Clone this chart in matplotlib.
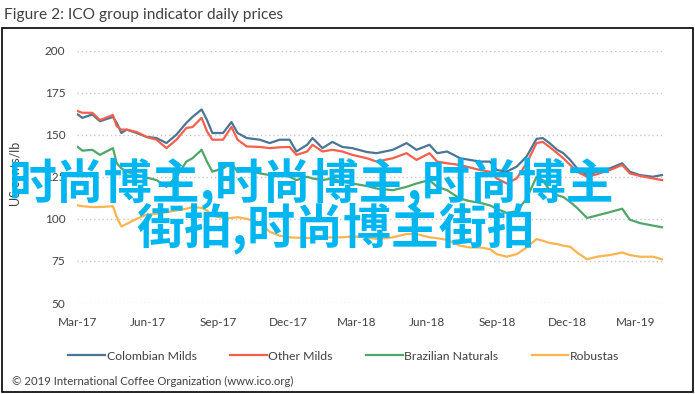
import matplotlib
matplotlib.use('Agg')
import matplotlib.pyplot as plt
import pandas as pd
from matplotlib.lines import Line2D
from matplotlib.patches import Rectangle

# ---------------- data ----------------
dates = [
    "2017-03-01", "2017-03-07", "2017-03-20", "2017-03-30", "2017-04-16", "2017-04-21", "2017-04-27", "2017-05-04",
    "2017-05-17", "2017-05-30", "2017-06-12", "2017-06-25", "2017-07-08", "2017-07-21", "2017-07-29", "2017-08-10",
    "2017-08-17", "2017-08-24", "2017-09-07", "2017-09-18", "2017-09-26", "2017-10-08", "2017-10-25", "2017-11-07",
    "2017-11-20", "2017-12-03", "2017-12-12", "2017-12-26", "2018-01-02", "2018-01-15", "2018-01-28", "2018-02-10",
    "2018-02-23", "2018-03-14", "2018-03-27", "2018-04-17", "2018-05-05", "2018-05-18", "2018-06-04", "2018-06-14",
    "2018-06-27", "2018-07-14", "2018-07-27", "2018-08-09", "2018-08-22", "2018-08-31", "2018-09-13", "2018-09-26",
    "2018-10-09", "2018-10-22", "2018-10-30", "2018-11-08", "2018-11-18", "2018-11-26", "2018-12-05", "2018-12-14",
    "2018-12-27", "2019-01-09", "2019-01-26", "2019-02-11", "2019-02-21", "2019-03-06", "2019-03-23", "2019-04-04",
]
colombian_milds = [
    162, 160, 162, 158, 160.5, 157, 151, 153, 151, 148.7,
    148, 145, 150, 157, 160.5, 165, 158.7, 151, 151, 157.5,
    151, 148, 147, 145, 147, 147, 140, 144, 148, 142,
    145.7, 142.7, 142, 139.7, 139, 141, 145, 141, 144, 139,
    140, 136, 135, 134, 134, 129, 128, 131, 137, 147.5,
    148, 145, 141, 139, 135, 130, 126, 128, 130, 133,
    128, 126, 125, 126,
]
other_milds = [
    164, 163, 163, 158.7, 161.7, 155, 153, 153, 151.6, 148.6,
    147, 142, 147, 154, 154.5, 160, 152, 147, 147, 154.6,
    147, 143, 142.7, 142, 142.5, 142.7, 138, 140, 144, 140,
    141, 140, 138, 136, 134, 136, 139, 135, 139, 134,
    133, 132, 130.5, 129, 128, 124, 121, 124, 133, 145,
    145.7, 142.7, 139, 136, 132, 128, 125, 126.5, 129, 132,
    127, 125.5, 124, 123,
]
brazilian_naturals = [
    142.7, 140.5, 141, 138, 142, 133, 130, 128, 126, 124.5,
    123, 119, 125, 134, 136, 141, 134, 128, 130, 133,
    128, 129, 127, 126, 127, 125, 123, 125, 124, 123,
    124, 122, 121, 119.5, 118, 117, 119, 121, 123, 119,
    117, 112, 110.5, 109.5, 108, 106, 103.5, 104.5, 112, 125,
    123, 117, 114, 113, 110, 106.5, 100.5, 102, 104, 106,
    99.5, 97.5, 96, 95,
]
robustas = [
    108, 107.5, 107, 107, 107.5, 101, 95.5, 97, 100, 102.5,
    103, 104, 105, 106, 107, 106.5, 105, 102, 100.5, 100.5,
    101, 100, 97.6, 92.3, 90, 89, 88.8, 88.6, 88.6, 89,
    89, 89, 89.5, 89, 88, 89, 91, 91, 89, 88.5,
    87.5, 84, 83, 83, 82, 79, 77.5, 79, 83, 88,
    87, 85.7, 85, 84, 83.4, 80, 76, 77.5, 78.5, 80,
    78.5, 77.5, 77.5, 76,
]
series_names = ["Colombian Milds", "Other Milds", "Brazilian Naturals", "Robustas"]
series_colors = ["#4A7696", "#F4604C", "#4FA66A", "#FDB44E"]

y_ticks = [50, 75, 100, 125, 150, 175, 200]
x_tick_dates = ["2017-03-01", "2017-06-01", "2017-09-01", "2017-12-01", "2018-03-01",
                "2018-06-01", "2018-09-01", "2018-12-01", "2019-03-01"]
x_tick_labels = ["Mar-17", "Jun-17", "Sep-17", "Dec-17", "Mar-18",
                 "Jun-18", "Sep-18", "Dec-18", "Mar-19"]

title = "Figure 2: ICO group indicator daily prices"
y_label = "US cents/lb"
footer = "\u00a9 2019 International Coffee Organization (www.ico.org)"
overlay_line1 = "时尚博主,时尚博主,时尚博主"
overlay_line2 = "街拍,时尚博主街拍"

# ---------------- figure ----------------
plt.rcParams['font.family'] = ['Lato', 'DejaVu Sans']
W, H = 695, 394
fig = plt.figure(figsize=(W / 100, H / 100), dpi=100)

ax = fig.add_axes([77 / W, 1 - 303 / H, (665 - 77) / W, (303 - 50.5) / H])
d = pd.to_datetime(dates)
all_series = [colombian_milds, other_milds, brazilian_naturals, robustas]
for vals, name, col in zip(all_series, series_names, series_colors):
    ax.plot(d, vals, color=col, lw=1.6, label=name, zorder=3, solid_joinstyle='round')

ax.set_ylim(50, 200)
ax.set_yticks(y_ticks)
ax.set_xlim(pd.Timestamp("2017-02-28"), pd.Timestamp("2019-04-08"))
ax.set_xticks(pd.to_datetime(x_tick_dates))
ax.set_xticklabels(x_tick_labels)
ax.grid(axis='y', color='#C8C8C8', linestyle=(0, (1, 2)), lw=1)
ax.grid(axis='x', visible=False)
for s in ax.spines.values():
    s.set_visible(False)
ax.tick_params(axis='both', length=0, labelsize=8.5, colors='#404040')
ax.tick_params(axis='y', pad=8.5)
ax.tick_params(axis='x', pad=10)

handles = [Line2D([], [], color=c, lw=1.6) for c in series_colors]
fig.legend(handles, series_names, loc='center', bbox_to_anchor=(344 / W, 1 - 356 / H),
           ncol=4, frameon=False, fontsize=8.8, handlelength=3.0, handletextpad=0.15,
           columnspacing=2.7, labelcolor='#404040')

fig.text(4 / W, 1 - 15 / H, title, ha='left', va='center', fontsize=11.2, color='#404040')
fig.text(15 / W, 1 - 174 / H, y_label, ha='center', va='center', rotation=90,
         fontsize=9, color='#404040')
fig.text(12 / W, 1 - 381 / H, footer, ha='left', va='center', fontsize=8.2, color='#404040')

fig.add_artist(Rectangle((1.5 / W, 2 / H), 691 / W, 364 / H, transform=fig.transFigure,
                         fill=False, ec='black', lw=1.2))

fig.text(312 / W, 1 - 183 / H, overlay_line1, ha='center', va='center', fontsize=34.5,
         family=['Noto Sans CJK SC', 'DejaVu Sans'], weight='bold', color='#00B6F1', zorder=10)
fig.text(336 / W, 1 - 228 / H, overlay_line2, ha='center', va='center', fontsize=34.5,
         family=['Noto Sans CJK SC', 'DejaVu Sans'], weight='bold', color='#00B6F1', zorder=10)

fig.savefig('out.png', dpi=100)
